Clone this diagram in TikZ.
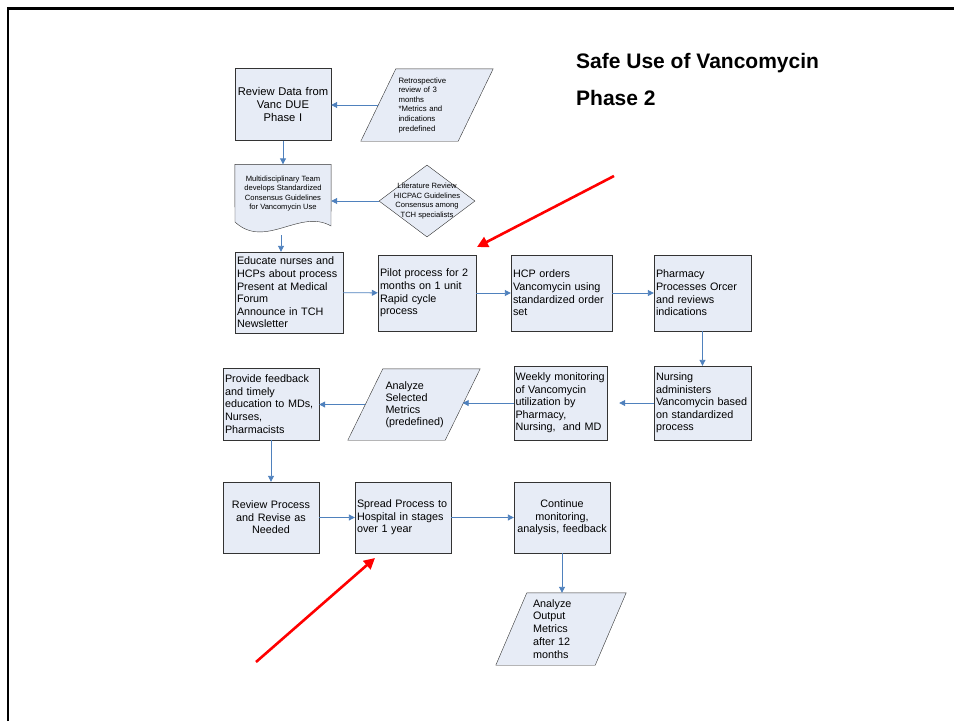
\documentclass[tikz,border=0pt]{standalone}
\usepackage{fontspec}
\setmainfont{Liberation Sans}
\usetikzlibrary{shapes.geometric,arrows.meta,backgrounds}
\definecolor{boxfill}{RGB}{231,236,246}
\definecolor{linkblue}{RGB}{79,129,189}
\hyphenpenalty=10000
\exhyphenpenalty=10000
\begin{document}
\begin{tikzpicture}
	[	x=1pt,y=-1pt,
		box/.style={rectangle,draw=black!80,fill=boxfill,inner xsep=2pt,inner ysep=0pt,align=left,font=\fontsize{10.8}{12.6}\selectfont,minimum height=72pt},
		paratext/.style={rectangle,draw=none,inner xsep=20pt,inner ysep=0pt,align=left},
		note/.style={draw=none,fill=none,inner sep=0pt,align=center,font=\fontsize{7.6}{9.6}\selectfont},
		decision/.style={diamond,draw=black!80,fill=boxfill,minimum width=96pt,minimum height=72pt,inner sep=0pt},
		outline/.style={draw=black!80,fill=boxfill},
		link/.style={draw=linkblue,line width=0.9pt,-{Triangle[length=6pt,width=6pt]}},
		hint/.style={draw=red,line width=2.6pt,-{Triangle[length=11pt,width=11pt]}},
		heading/.style={font=\bfseries\fontsize{21}{25}\selectfont,anchor=base west,inner sep=0pt}
	]
	\useasboundingbox (0,0) rectangle (954,721);
	\draw[line width=2.5pt] (8,721) -- (8,8.5) -- (954,8.5);

	\node[heading] (title) at (576,68) {Safe Use of Vancomycin};
	\node[heading] (phase) at (576,105) {Phase 2};

% first column
	\node[box,text width=94pt,inner xsep=1pt,align=center,font=\fontsize{11.2}{12.8}\selectfont] (rddata) at (283,104.5) {Review Data from\\Vanc DUE\\Phase I};
	\node[paratext,text width=57pt,minimum height=72pt,font=\fontsize{7.8}{9.6}\selectfont] (retro) at (427,105) {Retrospective\\review of 3\\months\\{}*Metrics and\\indications\\predefined};
	\node[note,minimum width=96pt,minimum height=58pt] (multi) at (283,193.5) {Multidisciplinary Team\\develops Standardized\\Consensus Guidelines\\for Vancomycin Use};
	\coordinate (multiwave) at (281,235);
	\node[decision] (litrev) at (427,201) {};
	\node[note] (littext) at (litrev.center) {Literature Review\\HICPAC Guidelines\\Consensus among\\TCH specialists};

% row of four
	\node[box,text width=104pt,minimum height=81pt] (educate) at (289,292.5) {Educate nurses and\\HCPs about process\\Present at Medical\\Forum\\Announce in TCH\\Newsletter};
	\node[box,text width=94pt,minimum height=76pt] (pilot) at (427,293) {Pilot process for 2\\months on 1 unit\\Rapid cycle\\process};
	\node[box,text width=97pt,minimum height=76pt] (hcp) at (561.5,293) {HCP orders\\Vancomycin using\\standardized order\\set};
	\node[box,text width=93pt,minimum height=76pt] (pharm) at (702.5,293) {Pharmacy\\Processes Orcer\\and reviews\\indications};

% row back
	\node[box,text width=93pt,minimum height=74pt] (nursing) at (702.5,403) {Nursing\\administers\\Vancomycin based\\on standardized\\process};
	\node[box,text width=90pt,inner xsep=1.5pt,minimum height=74pt] (weekly) at (560.5,403) {Weekly monitoring\\of Vancomycin\\utilization by\\Pharmacy,\\Nursing,\ \ and MD};
	\node[paratext,text width=57pt,minimum height=71pt,font=\fontsize{10.8}{12}\selectfont] (selected) at (414,404.5) {Analyze\\Selected\\Metrics\\(predefined)};
	\node[box,text width=92pt] (feedback) at (271,404) {Provide feedback\\and timely\\education to MDs,\\Nurses,\\Pharmacists};

% last row
	\node[box,text width=92pt,minimum height=71pt,align=center] (revise) at (271,517.5) {Review Process\\and Revise as\\Needed};
	\node[box,text width=92pt,minimum height=71pt] (spread) at (403,517.5) {Spread Process to\\Hospital in stages\\over 1 year};
	\node[box,text width=92pt,minimum height=71pt,align=center] (monitor) at (562,517.5) {Continue\\monitoring,\\analysis, feedback};
	\node[paratext,inner xsep=21.5pt,text width=56pt,minimum height=72pt,font=\fontsize{10.8}{12.9}\selectfont] (output) at (561,629) {Analyze\\Output\\Metrics\\after 12\\months};

	\begin{scope}[on background layer]
		\draw[outline] ([xshift=-17.5pt]retro.south west) -- ([xshift=17.5pt]retro.north west) -- ([xshift=17.5pt]retro.north east) -- ([xshift=-17.5pt]retro.south east) -- cycle;
		\draw[outline] ([xshift=-17.5pt]selected.south west) -- ([xshift=17.5pt]selected.north west) -- ([xshift=17.5pt]selected.north east) -- ([xshift=-17.5pt]selected.south east) -- cycle;
		\draw[outline] ([xshift=-15.5pt]output.south west) -- ([xshift=15.5pt]output.north west) -- ([xshift=15.5pt]output.north east) -- ([xshift=-15.5pt]output.south east) -- cycle;
		\draw[outline] (multi.north west) -- (multi.north east) -- (331,226) .. controls (300,208) and (265,250) .. (235,222) -- cycle;
	\end{scope}

	\draw[link] (retro.west) -- (retro.west -| rddata.east);
	\draw[link] (rddata) -- (multi);
	\draw[link] (litrev.west) -- (litrev.west -| multi.east);
	\draw[link] (multiwave) -- (multiwave |- educate.north);
	\draw[link] (educate) -- (pilot);
	\draw[link] (pilot) -- (hcp);
	\draw[link] (hcp) -- (pharm);
	\draw[link] (pharm) -- (nursing);
	\draw[link,shorten >=12pt] (nursing) -- (weekly);
	\draw[link] (weekly.west) -- (weekly.west -| selected.east);
	\draw[link] (selected.west) -- (selected.west -| feedback.east);
	\draw[link] (feedback) -- (revise);
	\draw[link] (revise) -- (spread);
	\draw[link] (spread) -- (monitor);
	\draw[link] (monitor.south) -- (monitor.south |- output.north);

% red pointers
	\coordinate (tailA) at (614,176);
	\coordinate (tipA) at (477,247);
	\coordinate (tailB) at (256,662);
	\coordinate (tipB) at (375,558);
	\draw[hint] (tailA) -- (tipA);
	\draw[hint] (tailB) -- (tipB);
\end{tikzpicture}
\end{document}
